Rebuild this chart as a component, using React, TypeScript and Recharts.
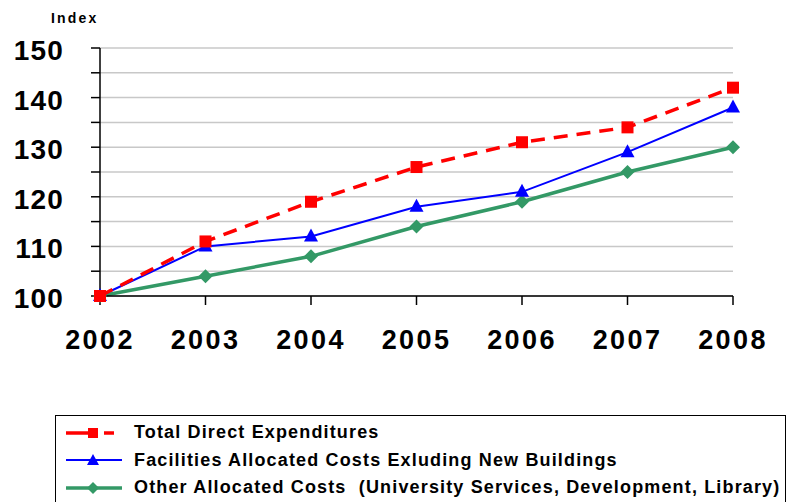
import React from "react"
import { CartesianGrid, Line, LineChart, XAxis, YAxis } from "recharts"

const years = ["2002", "2003", "2004", "2005", "2006", "2007", "2008"]
const totalDirect = [100, 111, 119, 126, 131, 134, 142]
const facilities = [100, 110, 112, 118, 121, 129, 138]
const otherAllocated = [100, 104, 108, 114, 119, 125, 130]
const yTicks = [100, 105, 110, 115, 120, 125, 130, 135, 140, 145, 150]

const seriesNames = [
  "Total Direct Expenditures",
  "Facilities Allocated Costs Exluding New Buildings",
  "Other Allocated Costs  (University Services, Development, Library)",
]

const data = years.map((year, i) => ({
  year,
  total: totalDirect[i],
  facilities: facilities[i],
  other: otherAllocated[i],
}))

const FONT = "'Liberation Sans', Arial, sans-serif"

const SquareDot = (props: any) => {
  const { cx, cy } = props
  if (cx == null || cy == null) return null
  return <rect key={`sq-${cx}`} x={cx - 6} y={cy - 6} width={12} height={12} fill="#ff0000" />
}

const TriangleDot = (props: any) => {
  const { cx, cy } = props
  if (cx == null || cy == null) return null
  return (
    <polygon
      key={`tri-${cx}`}
      points={`${cx},${cy - 8} ${cx + 7},${cy + 5} ${cx - 7},${cy + 5}`}
      fill="#0000ff"
    />
  )
}

const DiamondDot = (props: any) => {
  const { cx, cy } = props
  if (cx == null || cy == null) return null
  return (
    <polygon
      key={`dia-${cx}`}
      points={`${cx},${cy - 7} ${cx + 7},${cy} ${cx},${cy + 7} ${cx - 7},${cy}`}
      fill="#339966"
    />
  )
}

const LegendBox = () => {
  const row = { display: "flex", alignItems: "center", height: 27.5 } as const
  const label = {
    fontFamily: FONT,
    fontWeight: 700,
    fontSize: 18,
    letterSpacing: 1.15,
    color: "#000",
    marginLeft: 10,
    whiteSpace: "pre",
  } as const
  return (
    <div
      style={{
        position: "absolute",
        left: 55,
        top: 415,
        width: 731,
        height: 92,
        border: "1.5px solid #000",
        paddingTop: 3,
        paddingLeft: 8,
        boxSizing: "border-box",
      }}
    >
      <div style={row}>
        <svg width={60} height={14}>
          <line x1={2} y1={7} x2={58} y2={7} stroke="#ff0000" strokeWidth={3.5} strokeDasharray="30 8 10 100" />
          <rect x={24} y={2} width={10} height={10} fill="#ff0000" />
        </svg>
        <span style={label}>{seriesNames[0]}</span>
      </div>
      <div style={row}>
        <svg width={60} height={14}>
          <line x1={2} y1={7} x2={58} y2={7} stroke="#0000ff" strokeWidth={2} />
          <polygon points="29,1 35,12 23,12" fill="#0000ff" />
        </svg>
        <span style={label}>{seriesNames[1]}</span>
      </div>
      <div style={row}>
        <svg width={60} height={14}>
          <line x1={2} y1={7} x2={58} y2={7} stroke="#339966" strokeWidth={3.5} />
          <polygon points="29,1 35,7 29,13 23,7" fill="#339966" />
        </svg>
        <span style={label}>{seriesNames[2]}</span>
      </div>
    </div>
  )
}

export default function App() {
  return (
    <div style={{ position: "absolute", left: 0, top: 0, width: 787, height: 502, background: "#fff", overflow: "hidden" }}>
      <div
        style={{
          position: "absolute",
          left: 51,
          top: 10,
          fontFamily: FONT,
          fontWeight: 700,
          fontSize: 14,
          letterSpacing: 2.2,
          lineHeight: "16px",
        }}
      >
        Index
      </div>
      <LineChart
        width={787}
        height={502}
        data={data}
        margin={{ top: 48, right: 54, left: 0, bottom: 0 }}
      >
        <CartesianGrid vertical={false} stroke="#c8c8c8" strokeWidth={1.5} />
        <XAxis
          dataKey="year"
          height={206}
          axisLine={{ stroke: "#000", strokeWidth: 1.5 }}
          tickLine={{ stroke: "#000", strokeWidth: 1.5 }}
          tickSize={9}
          tickMargin={25}
          interval={0}
          tick={{ fill: "#000", fontSize: 27, fontWeight: 700, fontFamily: FONT, letterSpacing: 2.4 }}
        />
        <YAxis
          domain={[100, 150]}
          ticks={yTicks}
          width={100}
          interval={0}
          axisLine={{ stroke: "#000", strokeWidth: 1.5 }}
          tickLine={{ stroke: "#000", strokeWidth: 1.5 }}
          tickSize={9}
          tickMargin={27}
          tickFormatter={(v: number) => (v % 10 === 0 ? String(v) : "")}
          tick={{ fill: "#000", fontSize: 28, fontWeight: 700, fontFamily: FONT, letterSpacing: 1.2, dy: 2 }}
        />
        <Line
          dataKey="other"
          stroke="#339966"
          strokeWidth={3.5}
          dot={DiamondDot}
          isAnimationActive={false}
        />
        <Line
          dataKey="facilities"
          stroke="#0000ff"
          strokeWidth={2}
          dot={TriangleDot}
          isAnimationActive={false}
        />
        <Line
          dataKey="total"
          stroke="#ff0000"
          strokeWidth={3.5}
          strokeDasharray="14 9"
          dot={SquareDot}
          isAnimationActive={false}
        />
      </LineChart>
      <LegendBox />
    </div>
  )
}
